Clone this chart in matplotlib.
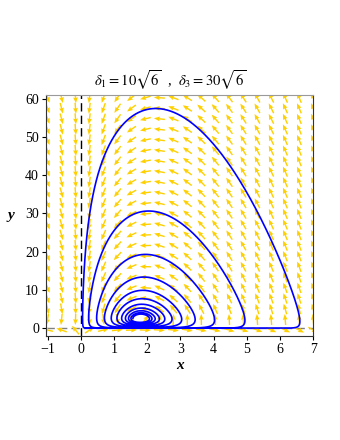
import numpy as np
import matplotlib
matplotlib.use("Agg")
import matplotlib.pyplot as plt

plt.rcParams['font.family'] = ['Liberation Serif', 'DejaVu Serif']
plt.rcParams['mathtext.fontset'] = 'stix'

# view and ticks
x_view = [-1.05, 7.0]
y_view = [-2.1, 61.0]
x_ticks = [-1, 0, 1, 2, 3, 4, 5, 6, 7]
y_ticks = [0, 10, 20, 30, 40, 50, 60]

# model parameters, tuned to the portrait (centre ~ (1.8, 2.5))
x_eq = 1.8
y_eq = 2.5
power = 2.0
gamma = 1.0
beta = 0.29
eps = 0.0337
kappa = 0.044

# trajectory passes through its right-most point here
start_point = [6.6, 1.78]
t_back = 60.0
t_forward = 40.0
step = 0.0012

# arrow grid
arrow_cols = np.linspace(-1.0, 7.0, 20)
arrow_rows = np.linspace(-0.5, 60.3, 23)


def rhs(x, y):
    dx = x * (beta * (y_eq - y) - kappa * (x - x_eq))
    dy = y * (gamma * (np.sign(x) * np.abs(x) ** power - x_eq ** power) - eps * (y - y_eq))
    return dx, dy


def integrate(x, y, t_end, dt):
    xs, ys = [x], [y]
    for i in range(int(abs(t_end / dt))):
        k1x, k1y = rhs(x, y)
        k2x, k2y = rhs(x + dt / 2 * k1x, y + dt / 2 * k1y)
        k3x, k3y = rhs(x + dt / 2 * k2x, y + dt / 2 * k2y)
        k4x, k4y = rhs(x + dt * k3x, y + dt * k3y)
        x = x + dt / 6 * (k1x + 2 * k2x + 2 * k3x + k4x)
        y = y + dt / 6 * (k1y + 2 * k2y + 2 * k3y + k4y)
        xs.append(x)
        ys.append(y)
        if dt < 0 and (x < 0.15 or y > 60):
            break
    return np.array(xs), np.array(ys)


bx, by = integrate(start_point[0], start_point[1], t_back, -step)
fx, fy = integrate(start_point[0], start_point[1], t_forward, step)
traj_x = np.concatenate([bx[::-1], fx[1:]])
traj_y = np.concatenate([by[::-1], fy[1:]])

fig = plt.figure(figsize=(3.4, 4.4), dpi=100)
ax = fig.add_axes([0.135, 0.236, 0.786, 0.548])
ax.set_xlim(x_view)
ax.set_ylim(y_view)

# direction field, normalised in screen space
sx = 0.786 * 340 / (x_view[1] - x_view[0])
sy = 0.548 * 440 / (y_view[1] - y_view[0])
X, Y = np.meshgrid(arrow_cols, arrow_rows)
U, V = rhs(X, Y)
Us, Vs = U * sx, V * sy
mag = np.hypot(Us, Vs)
mag[mag == 0] = 1
L = 11.0
ax.quiver(X, Y, Us / mag * L, Vs / mag * L, angles='uv', scale_units='dots',
          scale=1, units='dots', width=1.4, headwidth=3.4, headlength=4.2,
          headaxislength=3.8, pivot='middle', color='#FFD000', zorder=2)

ax.axhline(0, color='#808080', lw=1.0, dashes=(6, 3), zorder=1)
ax.axvline(0, color='black', lw=1.0, dashes=(6, 3), zorder=1)

ax.plot(traj_x, traj_y, color='#0000FF', lw=1.2, zorder=3)

ax.set_xticks(x_ticks)
ax.set_yticks(y_ticks)
ax.set_xticklabels([str(t).replace('-', '\u2212') for t in x_ticks])
ax.tick_params(direction='out', length=3, labelsize=10, pad=2)
for side in ['left', 'bottom', 'right']:
    ax.spines[side].set_color('#333333')
ax.spines['top'].set_color('#9a9a9a')

ax.set_xlabel('x', fontsize=11, fontweight='bold', style='italic', labelpad=2)
ax.set_ylabel('y', fontsize=11, fontweight='bold', style='italic',
              rotation=0, labelpad=10, va='center')

fig.text(0.5, 0.818, r'$\delta_{\mathit{1}}=10\sqrt{6}$  ,  $\delta_{\mathit{3}}=30\sqrt{6}$',
         ha='center', va='center', fontsize=10.5)

fig.savefig('out.png', dpi=100)
